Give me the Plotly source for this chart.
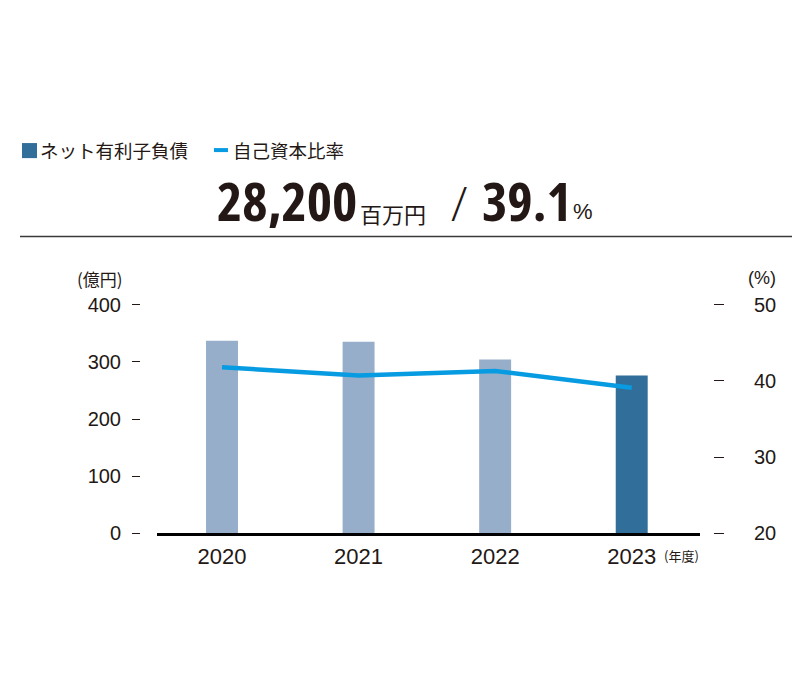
import plotly.graph_objects as go

# data
years = ["2020", "2021", "2022", "2023"]
net_debt = [337, 335, 304, 276]          # 億円
equity_ratio = [41.8, 40.7, 41.3, 39.1]  # %
left_ticks = [0, 100, 200, 300, 400]
right_ticks = [20, 30, 40, 50]
headline_debt = "28,200"
headline_ratio = "39.1"
series_names = ["ネット有利子負債", "自己資本比率"]

LIGHT = "#97aecb"
DARK = "#316e9a"
LINE = "#079be1"
INK = "#231815"
FONT = "Liberation Sans, Noto Sans CJK JP, sans-serif"
JP = "Noto Sans CJK JP, sans-serif"
BIG = "Open Sans, sans-serif"


# page pixels -> paper fractions (corrected for how the page lands in the shot)
def X(px):
    return (px - 8) / 800


def Y(py):
    return 1 - ((py - 20.4) / 0.965) / 700


bar_colors = [LIGHT] * (len(years) - 1) + [DARK]

fig = go.Figure()
fig.add_trace(go.Bar(x=years, y=net_debt, marker_color=bar_colors,
                     marker_line_width=0, width=0.234, yaxis="y",
                     name=series_names[0]))
fig.add_trace(go.Scatter(x=years, y=equity_ratio, mode="lines", yaxis="y2",
                         line=dict(color=LINE, width=4.5), name=series_names[1]))

fig.update_layout(
    width=800, height=700, margin=dict(l=0, r=0, t=0, b=0),
    paper_bgcolor="white", plot_bgcolor="white", showlegend=False,
    font=dict(family=FONT, color=INK, size=20),
    xaxis=dict(domain=[X(157), X(700)], range=[-0.476, 3.5],
               showgrid=False, showline=True, linecolor="black", linewidth=3,
               ticks="", ticklabelstandoff=1,
               tickfont=dict(size=22, color=INK)),
    yaxis=dict(domain=[Y(533), Y(305)], range=[0, 400],
               anchor="free", position=X(140),
               tickvals=left_ticks, showgrid=False, zeroline=False, showline=False,
               ticks="outside", ticklen=8, tickwidth=1, tickcolor=INK,
               ticklabelstandoff=7, tickfont=dict(size=20, color=INK)),
    yaxis2=dict(overlaying="y", side="right", range=[20, 50],
                anchor="free", position=X(713),
                tickvals=right_ticks, showgrid=False, zeroline=False, showline=False,
                ticks="outside", ticklen=10, tickwidth=1, tickcolor=INK,
                ticklabelstandoff=26, tickfont=dict(size=20, color=INK)),
)

# rule under the headline
fig.add_shape(type="line", xref="paper", yref="paper",
              x0=X(20), x1=X(796), y0=Y(237), y1=Y(237),
              line=dict(color="#3a3a3a", width=1.5))

# legend (hand-placed)
fig.add_shape(type="rect", xref="paper", yref="paper",
              x0=X(22), x1=X(37), y0=Y(159), y1=Y(144),
              fillcolor=DARK, line_width=0)
fig.add_shape(type="line", xref="paper", yref="paper",
              x0=X(214), x1=X(228), y0=Y(151), y1=Y(151),
              line=dict(color=LINE, width=4))


def note(text, x, y, size, xanchor="left", family=JP, color=INK, weight="normal"):
    fig.add_annotation(text=text, xref="paper", yref="paper",
                       x=X(x), y=Y(y), xanchor=xanchor, yanchor="middle",
                       showarrow=False,
                       font=dict(family=family, size=size, color=color, weight=weight))


note(series_names[0], 38, 151, 18.5)
note(series_names[1], 231, 151, 18.5)

# headline (condensed bold figures)
cond = "<span style='font-stretch:75%'><b>{}</b></span>"
note(cond.format(headline_debt), 359, 201, 54, "right", BIG)
note("百万円", 358, 214, 22)
note("/", 459, 203, 48, "center", BIG, weight=300)
note(cond.format(headline_ratio), 480, 201, 54, "left", BIG)
note("%", 571, 212, 22, "left", "Liberation Sans, sans-serif")

# axis unit labels
note("(億円)", 100, 279, 17, "center")
note("(%)", 762, 278, 18, "center", FONT)
note("(年度)", 681, 555, 13, "center")

fig.write_html("out.html")
